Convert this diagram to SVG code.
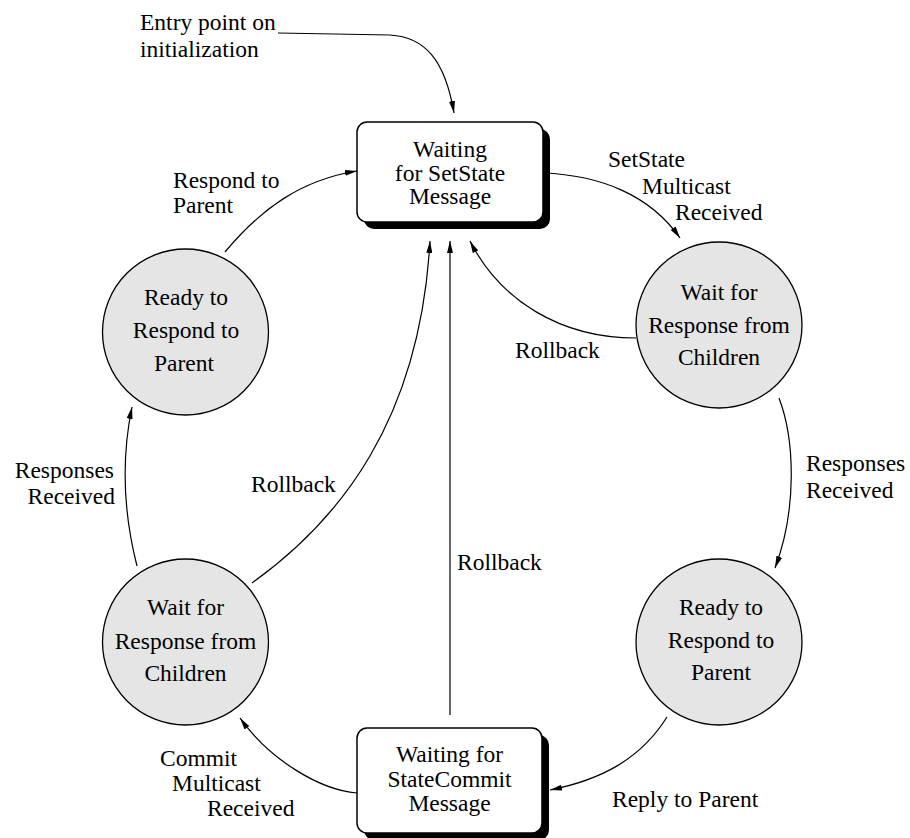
<svg xmlns="http://www.w3.org/2000/svg" width="910" height="838" viewBox="0 0 910 838">
<style>
text{font-size:23.5px;fill:#000}
.c{text-anchor:middle}
.r{text-anchor:end}
.state{fill:#e5e5e5;stroke:#000;stroke-width:1.3}
.box{fill:#fff;stroke:#000;stroke-width:1.5}
.shadow{fill:#000}
.edge{fill:none;stroke:#000;stroke-width:1.2;marker-end:url(#ah)}
</style>
<defs>
<marker id="ah" viewBox="0 0 12 6" refX="12" refY="3" markerWidth="12" markerHeight="6" markerUnits="userSpaceOnUse" orient="auto">
<path d="M0,0 L12,3 L0,6 z" fill="#000"/>
</marker>
</defs>
<rect width="910" height="838" fill="#fff"/>

<g id="connectors">
<path class="edge" d="M278,33 L390,35 C425,37 445,60 454,113"/>
<path class="edge" d="M543,173 C600,175 650,195 680,238"/>
<path class="edge" d="M636,338 C560,338 500,300 470,241"/>
<path class="edge" d="M450,715 L450,241"/>
<path class="edge" d="M252,583 C340,520 420,420 430,241"/>
<path class="edge" d="M225,252 C260,210 300,180 357,171"/>
<path class="edge" d="M137,566 C124,515 121,460 132,407"/>
<path class="edge" d="M779,398 C795,440 797,510 775,568"/>
<path class="edge" d="M667,717 C640,760 600,780 550,790"/>
<path class="edge" d="M357,793 C320,790 270,760 240,718"/>
</g>

<g font-family="'Liberation Serif', Tinos, 'Times New Roman', 'DejaVu Serif', serif">
<g id="labels">
<text x="140" y="30">Entry point on</text>
<text x="140" y="57">initialization</text>
<text x="608" y="167">SetState</text>
<text x="642" y="194">Multicast</text>
<text x="675" y="220">Received</text>
<text x="173" y="188">Respond to</text>
<text x="173" y="213">Parent</text>
<text x="515" y="358">Rollback</text>
<text x="251" y="492">Rollback</text>
<text x="457" y="570">Rollback</text>
<text class="r" x="114" y="478">Responses</text>
<text class="r" x="115" y="504">Received</text>
<text x="806" y="471">Responses</text>
<text x="806" y="498">Received</text>
<text x="612" y="807">Reply to Parent</text>
<text x="160" y="766">Commit</text>
<text x="172" y="791">Multicast</text>
<text x="207" y="816">Received</text>
</g>

<g id="waiting-setstate">
<rect class="shadow" x="364" y="129" width="186" height="100" rx="10"/>
<rect class="box" x="357" y="122" width="186" height="100" rx="10"/>
<text class="c" x="450" y="157">Waiting</text>
<text class="c" x="450" y="180.5">for SetState</text>
<text class="c" x="450" y="204">Message</text>
</g>

<g id="waiting-statecommit">
<rect class="shadow" x="364" y="735" width="185" height="105" rx="10"/>
<rect class="box" x="357" y="728" width="185" height="105" rx="10"/>
<text class="c" x="449.5" y="762">Waiting for</text>
<text class="c" x="449.5" y="787">StateCommit</text>
<text class="c" x="449.5" y="811">Message</text>
</g>

<g id="wait-children-right">
<circle class="state" cx="719" cy="325" r="83"/>
<text class="c" x="719" y="300">Wait for</text>
<text class="c" x="719" y="333">Response from</text>
<text class="c" x="719" y="365">Children</text>
</g>

<g id="ready-right">
<circle class="state" cx="719" cy="642" r="83"/>
<text class="c" x="721" y="615">Ready to</text>
<text class="c" x="721" y="648">Respond to</text>
<text class="c" x="721" y="680">Parent</text>
</g>

<g id="ready-left">
<circle class="state" cx="185.5" cy="332" r="83"/>
<text class="c" x="186" y="305">Ready to</text>
<text class="c" x="186" y="338">Respond to</text>
<text class="c" x="184" y="371">Parent</text>
</g>

<g id="wait-children-left">
<circle class="state" cx="185.5" cy="642" r="83"/>
<text class="c" x="185.5" y="615">Wait for</text>
<text class="c" x="185.5" y="649">Response from</text>
<text class="c" x="185.5" y="681">Children</text>
</g>
</g>
</svg>
